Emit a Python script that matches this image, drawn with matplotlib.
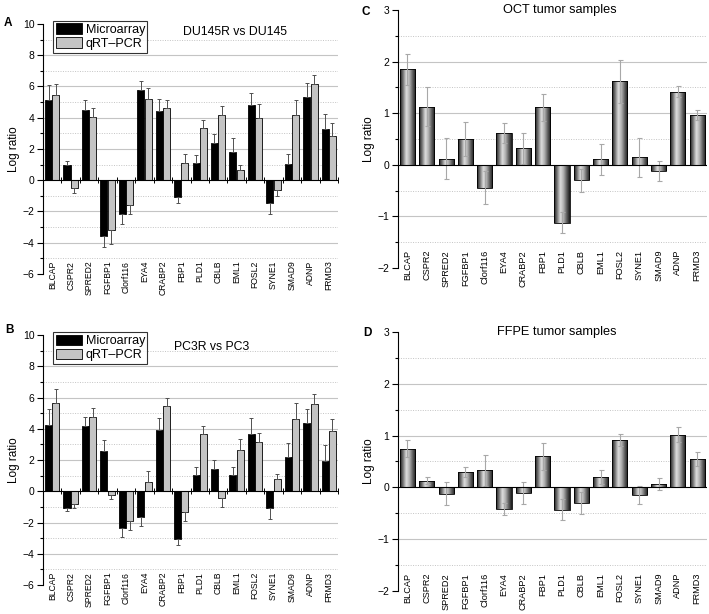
import numpy as np
import matplotlib
matplotlib.use('Agg')
import matplotlib.pyplot as plt
from matplotlib.colors import LinearSegmentedColormap

plt.rcParams['font.family'] = ['Liberation Sans', 'DejaVu Sans']

genes = ['BLCAP', 'CSPR2', 'SPRED2', 'FGFBP1', 'Clorf116', 'EYA4', 'CRABP2', 'FBP1',
         'PLD1', 'CBLB', 'EML1', 'FOSL2', 'SYNE1', 'SMAD9', 'ADNP', 'FRMD3']

# A: DU145R vs DU145
du_micro = [5.1, 1.0, 4.5, -3.55, -2.2, 5.75, 4.4, -1.05, 1.1, 2.35, 1.8, 4.8, -1.45, 1.05, 5.35, 3.25]
du_micro_err = [1.0, 0.2, 0.6, 0.7, 0.6, 0.6, 0.8, 0.4, 0.5, 0.6, 0.9, 0.8, 0.7, 0.6, 0.9, 1.0]
du_pcr = [5.45, -0.5, 4.05, -3.2, -1.6, 5.2, 4.65, 1.1, 3.35, 4.15, 0.65, 3.95, -0.65, 4.15, 6.15, 2.85]
du_pcr_err = [0.7, 0.3, 0.6, 0.9, 0.6, 0.7, 0.5, 0.6, 0.5, 0.6, 0.3, 0.9, 0.35, 1.0, 0.6, 0.8]

# B: PC3R vs PC3
pc_micro = [4.25, -1.05, 4.15, 2.6, -2.35, -1.65, 3.9, -3.05, 1.05, 1.4, 1.05, 3.7, -1.1, 2.2, 4.35, 1.95]
pc_micro_err = [1.0, 0.2, 0.6, 0.7, 0.6, 0.6, 0.8, 0.4, 0.5, 0.6, 0.5, 1.0, 0.7, 0.9, 0.9, 1.0]
pc_pcr = [5.65, -0.8, 4.75, -0.25, -1.9, 0.6, 5.45, -1.3, 3.7, -0.4, 2.65, 3.15, 0.8, 4.65, 5.6, 3.85]
pc_pcr_err = [0.9, 0.3, 0.6, 0.25, 0.6, 0.7, 0.5, 0.6, 0.45, 0.6, 0.7, 0.6, 0.3, 1.0, 0.6, 0.8]

# C: OCT tumor samples
oct_vals = [1.85, 1.13, 0.12, 0.5, -0.44, 0.62, 0.32, 1.12, -1.12, -0.3, 0.11, 1.62, 0.15, -0.12, 1.42, 0.97]
oct_err = [0.3, 0.38, 0.4, 0.33, 0.32, 0.2, 0.3, 0.26, 0.2, 0.22, 0.3, 0.42, 0.38, 0.2, 0.1, 0.1]

# D: FFPE tumor samples
ffpe_vals = [0.75, 0.13, -0.12, 0.3, 0.33, -0.42, -0.11, 0.6, -0.43, -0.3, 0.2, 0.92, -0.15, 0.07, 1.02, 0.55]
ffpe_err = [0.16, 0.07, 0.22, 0.1, 0.3, 0.12, 0.21, 0.26, 0.2, 0.22, 0.13, 0.12, 0.18, 0.12, 0.15, 0.13]

fig = plt.figure(figsize=(7.09, 6.14), dpi=100)

GRID = '#c4c4c4'


def style_axis(ax, lo, hi, major, label_pad, label_size):
    n = len(genes)
    ax.set_xlim(-0.5, n - 0.5)
    ax.set_ylim(lo, hi)
    for s in ('top', 'right', 'bottom'):
        ax.spines[s].set_visible(False)
    ax.spines['left'].set_linewidth(0.8)
    ax.set_yticks(np.arange(lo, hi + major / 2, major))
    ax.set_yticks(np.arange(lo + major / 2, hi, major), minor=True)
    ax.tick_params(axis='y', which='major', length=4, width=0.8, labelsize=7.5, pad=2)
    ax.tick_params(axis='y', which='minor', length=2, width=0.8)
    ax.set_xticks(np.arange(n))
    ax.set_xticklabels(genes, rotation=90, fontsize=label_size)
    ax.tick_params(axis='x', length=0, pad=label_pad)
    # grid: solid at majors, dotted at halves
    for v in np.arange(lo + major, hi, major):
        if abs(v) > 1e-9:
            ax.axhline(v, color=GRID, lw=0.8, zorder=0)
    for v in np.arange(lo + major / 2, hi, major):
        ax.axhline(v, color=GRID, lw=0.7, ls=(0, (1, 1.5)), zorder=0)
    ax.axhline(0, color='black', lw=0.8, zorder=5)
    ax.set_ylabel('Log ratio', fontsize=8.5, labelpad=2)


def cell_panel(rect, micro, micro_err, pcr, pcr_err, title, tx, ty):
    ax = fig.add_axes(rect)
    x = np.arange(len(genes))
    w = 0.38
    ax.bar(x - 0.2, micro, w, color='black', edgecolor='black', lw=0.6, zorder=3, label='Microarray')
    ax.bar(x + 0.2, pcr, w, color='#c4c4c4', edgecolor='black', lw=0.6, zorder=3, label='qRT\u2013PCR')
    for xs, v, e in ((x - 0.2, micro, micro_err), (x + 0.2, pcr, pcr_err)):
        v = np.array(v)
        e = np.array(e)
        lower = np.where(v < 0, e, 0)
        upper = np.where(v >= 0, e, 0)
        ax.errorbar(xs, v, yerr=[lower, upper], fmt='none', ecolor='#505050',
                    elinewidth=0.7, capsize=1.6, capthick=0.7, zorder=4)
    style_axis(ax, -6, 10, 2, -9.5, 6.2)
    ax.plot(np.arange(len(genes) + 1) - 0.5, np.zeros(len(genes) + 1), ls='none',
            marker='|', ms=4, mew=0.7, color='black', zorder=5)
    leg = ax.legend(loc='upper left', bbox_to_anchor=(0.034, 1.012), borderaxespad=0,
                    fontsize=9, frameon=True, fancybox=False, handlelength=2.1,
                    handleheight=0.95, labelspacing=0.1, borderpad=0.2, handletextpad=0.3)
    leg.get_frame().set_edgecolor('black')
    leg.get_frame().set_linewidth(0.8)
    ax.text(tx, ty, title, transform=ax.transAxes, ha='center', va='center', fontsize=8.8)
    return ax


cyl = LinearSegmentedColormap.from_list(
    'cyl', ['#1c1c1c', '#7a7a7a', '#dedede', '#b0b0b0', '#606060', '#1a1a1a'])
grad = np.linspace(0, 1, 64).reshape(1, -1)


def tumor_panel(rect, vals, errs, title, tx, ty):
    ax = fig.add_axes(rect)
    x = np.arange(len(genes))
    bars = ax.bar(x, vals, 0.78, facecolor='none', edgecolor='black', lw=0.6, zorder=3)
    for b in bars:
        x0, y0 = b.get_x(), b.get_y()
        im = ax.imshow(grad, cmap=cyl, aspect='auto', interpolation='bilinear',
                       extent=(x0, x0 + b.get_width(), y0, y0 + b.get_height()), zorder=2.5)
        im.set_clip_path(b)
    ax.errorbar(x, vals, yerr=errs, fmt='none', ecolor='#a8a8a8', elinewidth=0.8,
                capsize=1.8, capthick=0.8, zorder=4)
    style_axis(ax, -2, 3, 1, -13, 6.6)
    ax.text(tx, ty, title, transform=ax.transAxes, ha='center', va='center', fontsize=9.2)
    return ax


cell_panel([0.0607, 0.554, 0.416, 0.407], du_micro, du_micro_err, du_pcr, du_pcr_err,
           'DU145R vs DU145', 0.65, 0.968)
cell_panel([0.0607, 0.0472, 0.416, 0.407], pc_micro, pc_micro_err, pc_pcr, pc_pcr_err,
           'PC3R vs PC3', 0.57, 0.952)
tumor_panel([0.561, 0.5635, 0.436, 0.420], oct_vals, oct_err, 'OCT tumor samples', 0.524, 1.0)
tumor_panel([0.561, 0.0375, 0.436, 0.4218], ffpe_vals, ffpe_err, 'FFPE tumor samples', 0.515, 1.0)

for lab, px, py in (('A', 8, 23), ('B', 10, 330), ('C', 366, 12), ('D', 367, 333)):
    fig.text(px / 709, 1 - py / 614, lab, fontsize=8.5, fontweight='bold', ha='center', va='center')

fig.savefig('out.png', dpi=100)
